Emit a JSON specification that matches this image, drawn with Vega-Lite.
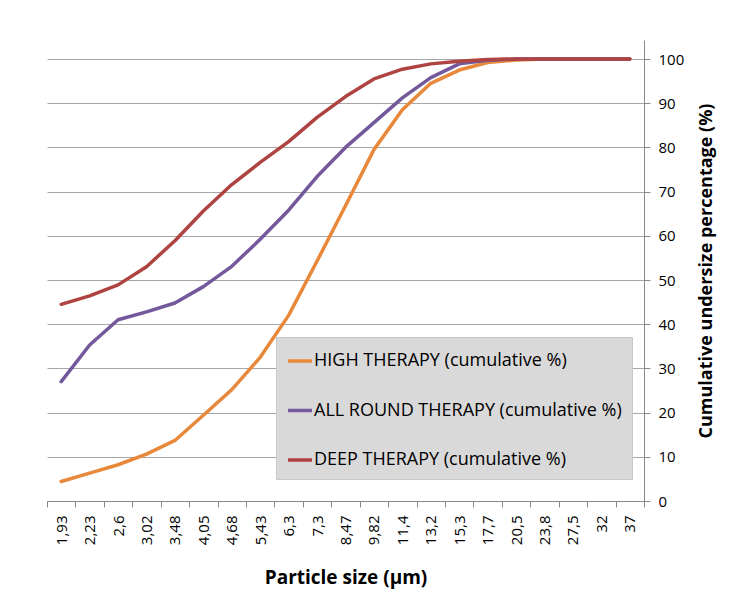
{
  "$schema": "https://vega.github.io/schema/vega-lite/v6.json",
  "autosize": {"type": "none"},
  "padding": {"left": 47, "top": 40, "right": 92, "bottom": 107},
  "width": 597,
  "height": 461,
  "background": "white",
  "data": {
    "values": [
      {"size": "1,93", "HIGH THERAPY (cumulative %)": 4.4, "ALL ROUND THERAPY (cumulative %)": 27.0, "DEEP THERAPY (cumulative %)": 44.5},
      {"size": "2,23", "HIGH THERAPY (cumulative %)": 6.3, "ALL ROUND THERAPY (cumulative %)": 35.3, "DEEP THERAPY (cumulative %)": 46.4},
      {"size": "2,6", "HIGH THERAPY (cumulative %)": 8.2, "ALL ROUND THERAPY (cumulative %)": 41.0, "DEEP THERAPY (cumulative %)": 48.9},
      {"size": "3,02", "HIGH THERAPY (cumulative %)": 10.6, "ALL ROUND THERAPY (cumulative %)": 42.8, "DEEP THERAPY (cumulative %)": 53.0},
      {"size": "3,48", "HIGH THERAPY (cumulative %)": 13.7, "ALL ROUND THERAPY (cumulative %)": 44.8, "DEEP THERAPY (cumulative %)": 58.9},
      {"size": "4,05", "HIGH THERAPY (cumulative %)": 19.4, "ALL ROUND THERAPY (cumulative %)": 48.5, "DEEP THERAPY (cumulative %)": 65.6},
      {"size": "4,68", "HIGH THERAPY (cumulative %)": 25.2, "ALL ROUND THERAPY (cumulative %)": 53.1, "DEEP THERAPY (cumulative %)": 71.6},
      {"size": "5,43", "HIGH THERAPY (cumulative %)": 32.5, "ALL ROUND THERAPY (cumulative %)": 59.2, "DEEP THERAPY (cumulative %)": 76.6},
      {"size": "6,3", "HIGH THERAPY (cumulative %)": 42.0, "ALL ROUND THERAPY (cumulative %)": 65.8, "DEEP THERAPY (cumulative %)": 81.3},
      {"size": "7,3", "HIGH THERAPY (cumulative %)": 54.3, "ALL ROUND THERAPY (cumulative %)": 73.4, "DEEP THERAPY (cumulative %)": 86.8},
      {"size": "8,47", "HIGH THERAPY (cumulative %)": 66.8, "ALL ROUND THERAPY (cumulative %)": 80.0, "DEEP THERAPY (cumulative %)": 91.5},
      {"size": "9,82", "HIGH THERAPY (cumulative %)": 79.5, "ALL ROUND THERAPY (cumulative %)": 85.6, "DEEP THERAPY (cumulative %)": 95.5},
      {"size": "11,4", "HIGH THERAPY (cumulative %)": 88.5, "ALL ROUND THERAPY (cumulative %)": 91.2, "DEEP THERAPY (cumulative %)": 97.7},
      {"size": "13,2", "HIGH THERAPY (cumulative %)": 94.5, "ALL ROUND THERAPY (cumulative %)": 95.8, "DEEP THERAPY (cumulative %)": 98.9},
      {"size": "15,3", "HIGH THERAPY (cumulative %)": 97.5, "ALL ROUND THERAPY (cumulative %)": 98.9, "DEEP THERAPY (cumulative %)": 99.5},
      {"size": "17,7", "HIGH THERAPY (cumulative %)": 99.2, "ALL ROUND THERAPY (cumulative %)": 99.7, "DEEP THERAPY (cumulative %)": 99.9},
      {"size": "20,5", "HIGH THERAPY (cumulative %)": 99.8, "ALL ROUND THERAPY (cumulative %)": 100, "DEEP THERAPY (cumulative %)": 100},
      {"size": "23,8", "HIGH THERAPY (cumulative %)": 100, "ALL ROUND THERAPY (cumulative %)": 100, "DEEP THERAPY (cumulative %)": 100},
      {"size": "27,5", "HIGH THERAPY (cumulative %)": 100, "ALL ROUND THERAPY (cumulative %)": 100, "DEEP THERAPY (cumulative %)": 100},
      {"size": "32", "HIGH THERAPY (cumulative %)": 100, "ALL ROUND THERAPY (cumulative %)": 100, "DEEP THERAPY (cumulative %)": 100},
      {"size": "37", "HIGH THERAPY (cumulative %)": 100, "ALL ROUND THERAPY (cumulative %)": 100, "DEEP THERAPY (cumulative %)": 100}
    ]
  },
  "transform": [
    {"fold": ["HIGH THERAPY (cumulative %)", "ALL ROUND THERAPY (cumulative %)", "DEEP THERAPY (cumulative %)"], "as": ["series", "value"]}
  ],
  "mark": {"type": "line", "strokeWidth": 3.5, "strokeJoin": "round", "strokeCap": "round"},
  "encoding": {
    "x": {
      "field": "size",
      "type": "nominal",
      "sort": null,
      "scale": {"paddingInner": 0, "paddingOuter": 0},
      "axis": {
        "title": "Particle size (µm)",
        "titleFont": "Open Sans",
        "titleFontSize": 19,
        "titleFontWeight": "bold",
        "titleColor": "black",
        "titlePadding": 24,
        "labelFont": "Open Sans",
        "labelFontSize": 15,
        "labelColor": "black",
        "labelAngle": -90,
        "labelPadding": 8,
        "tickBand": "extent",
        "tickSize": 6,
        "tickColor": "#888888",
        "domainColor": "#888888",
        "grid": false
      }
    },
    "y": {
      "field": "value",
      "type": "quantitative",
      "scale": {"domain": [0, 104.3], "nice": false},
      "axis": {
        "orient": "right",
        "title": "Cumulative undersize percentage (%)",
        "titleFont": "Open Sans",
        "titleFontSize": 18,
        "titleFontWeight": "bold",
        "titleColor": "black",
        "titleAngle": -90,
        "titlePadding": 32,
        "titleLimit": 600,
        "values": [0, 10, 20, 30, 40, 50, 60, 70, 80, 90, 100],
        "labelFont": "Open Sans",
        "labelFontSize": 15,
        "labelColor": "black",
        "labelPadding": 8,
        "tickSize": 6,
        "tickColor": "#888888",
        "domainColor": "#888888",
        "grid": true,
        "gridColor": "#a6a6a6"
      }
    },
    "color": {
      "field": "series",
      "type": "nominal",
      "scale": {
        "domain": ["HIGH THERAPY (cumulative %)", "ALL ROUND THERAPY (cumulative %)", "DEEP THERAPY (cumulative %)"],
        "range": ["#E8883A", "#73599B", "#AE4341"]
      },
      "legend": {
        "orient": "none",
        "legendX": 229,
        "legendY": 297,
        "title": null,
        "fillColor": "#d9d9d9",
        "strokeColor": "#c8c8c8",
        "padding": 10,
        "symbolType": "stroke",
        "symbolSize": 576,
        "symbolStrokeWidth": 3.5,
        "labelFont": "Open Sans",
        "labelFontSize": 18,
        "labelColor": "black",
        "labelLimit": 400,
        "labelOffset": 0,
        "rowPadding": 26.5
      }
    }
  },
  "config": {
    "view": {"stroke": null}
  }
}
